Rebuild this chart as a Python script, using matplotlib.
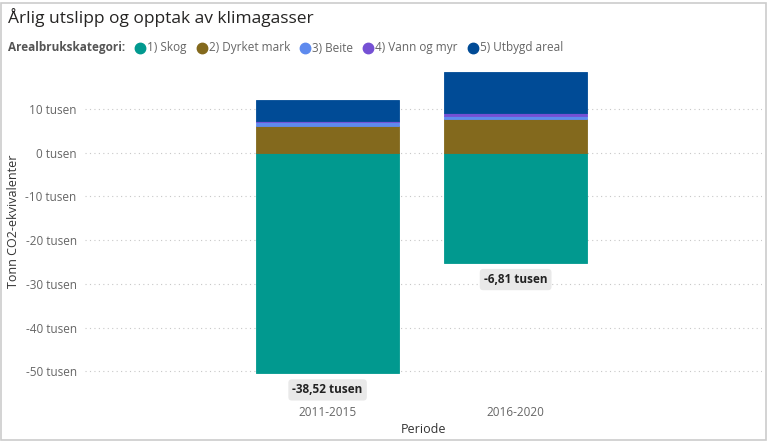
import matplotlib
matplotlib.use("Agg")
import matplotlib.pyplot as plt
from matplotlib.patches import Rectangle
from matplotlib.lines import Line2D
import numpy as np

# data (tusen tonn CO2-ekvivalenter)
periods = ["2011-2015", "2016-2020"]
categories = ["1) Skog", "2) Dyrket mark", "3) Beite", "4) Vann og myr", "5) Utbygd areal"]
skog = [-50.42, -25.21]
dyrket = [6.0, 7.6]
beite = [0.9, 0.8]
vann = [0.4, 0.6]
utbygd = [4.6, 9.4]
totals = [-38.52, -6.81]
yticks = [10, 0, -10, -20, -30, -40, -50]

colors = ["#01998F", "#83691D", "#5E8AEE", "#7550D4", "#004B96"]
series = [skog, dyrket, beite, vann, utbygd]

plt.rcParams['font.family'] = ['Segoe UI', 'Open Sans', 'DejaVu Sans']

fig = plt.figure(figsize=(7.68, 4.42), dpi=100)
ax = fig.add_axes([85 / 768, 1 - 378 / 442, 677 / 768, 313 / 442])

x = np.arange(len(periods))
width = 0.76

# stacked bars: negatives go down from 0, positives stack upwards
pos_base = np.zeros(len(periods))
neg_base = np.zeros(len(periods))
for vals, col in zip(series, colors):
    vals = np.array(vals)
    bottoms = np.where(vals >= 0, pos_base, neg_base)
    ax.bar(x, vals, width, bottom=bottoms, color=col, edgecolor=col,
           linewidth=0.6, zorder=3)
    pos_base = pos_base + np.where(vals >= 0, vals, 0)
    neg_base = neg_base + np.where(vals < 0, vals, 0)

ax.set_xlim(-1.29, 2.31)
ax.set_ylim(-51.5, 20)
ax.set_yticks(yticks)
ax.set_yticklabels(["%d tusen" % v for v in yticks], color="#666666", fontsize=8.5)
ax.set_xticks(x)
ax.set_xticklabels(periods, color="#666666", fontsize=8.5)
ax.tick_params(length=0, pad=6)
ax.tick_params(axis='x', pad=20)
ax.grid(axis='y', color="#c8c8c8", linestyle=(0, (1, 3)), linewidth=0.8, zorder=0)
for s in ax.spines.values():
    s.set_visible(False)
ax.set_ylabel("Tonn CO2-ekvivalenter", fontsize=9, color="#333333", labelpad=4)
ax.set_xlabel("Periode", fontsize=9, color="#333333", labelpad=3)

# total labels below each bar
for xi, tot, nb in zip(x, totals, neg_base):
    ax.annotate(("%.2f tusen" % tot).replace(".", ","), (xi, nb), xytext=(0, -12),
                textcoords="offset points", ha="center", va="center",
                fontsize=8.5, fontweight="bold", color="#222222",
                bbox=dict(boxstyle="round,pad=0.35,rounding_size=0.3",
                          fc="#e9e9e9", ec="none"), zorder=5)

# title
fig.text(8 / 768, 1 - 18 / 442, "Årlig utslipp og opptak av klimagasser",
         fontsize=12.5, color="#252423", va="center", ha="left")

# legend row
fig.canvas.draw()
renderer = fig.canvas.get_renderer()
ly = 1 - 48 / 442
t = fig.text(8 / 768, ly, "Arealbrukskategori:", fontsize=8.5, fontweight="bold",
             color="#555555", va="center", ha="left")
xpos = t.get_window_extent(renderer).x1 + 10
for cat, col in zip(categories, colors):
    fig.add_artist(Line2D([(xpos + 5) / 768], [ly], marker="o", markersize=7.5,
                          color=col, linestyle="none", transform=fig.transFigure))
    tt = fig.text((xpos + 12) / 768, ly, cat, fontsize=8.5, color="#666666",
                  va="center", ha="left")
    xpos = tt.get_window_extent(renderer).x1 + 10

# outer frame
fig.add_artist(Rectangle((1 / 768, 2 / 442), 765 / 768, 437 / 442, fill=False,
                         ec="#cccccc", lw=1.2, transform=fig.transFigure))

fig.savefig("out.png", dpi=100)
